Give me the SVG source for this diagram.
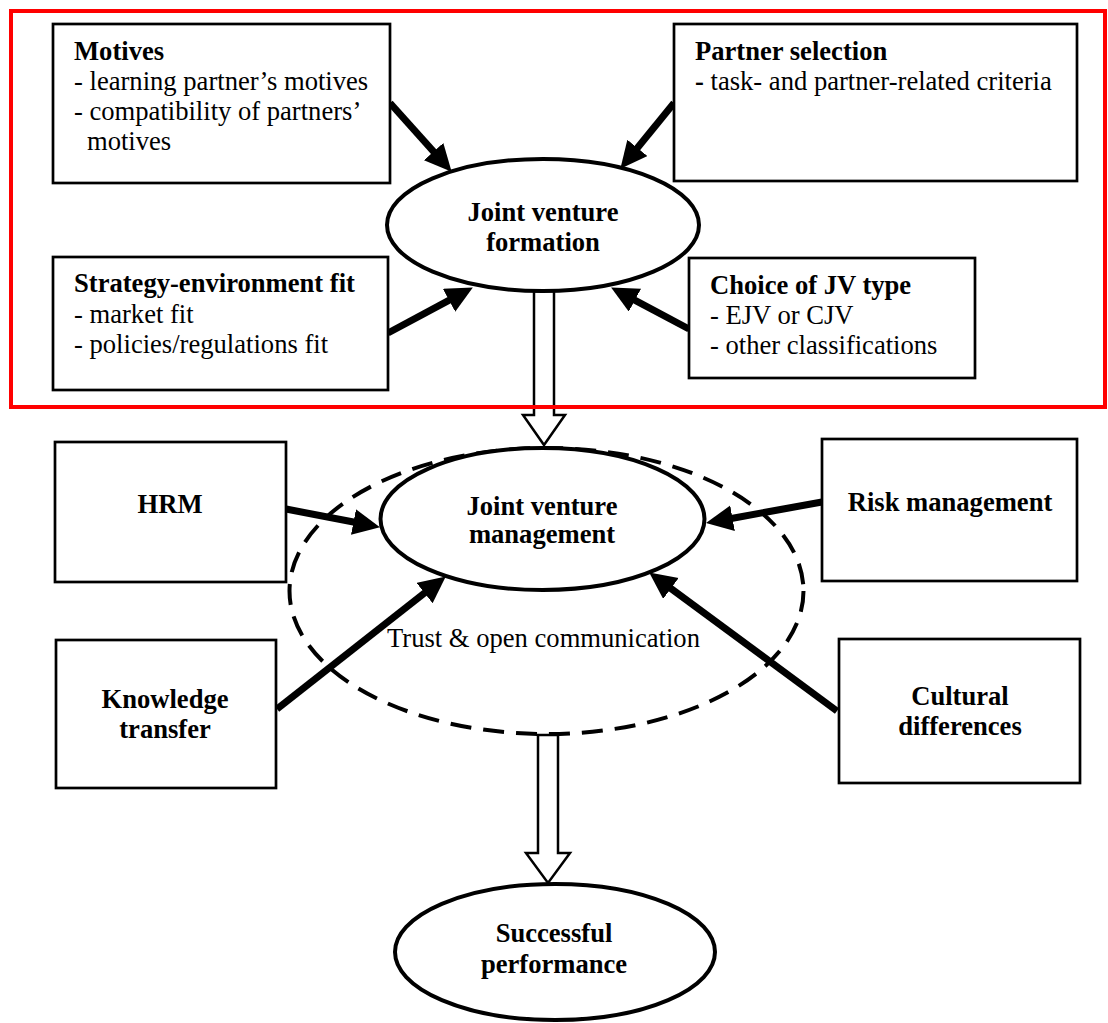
<svg xmlns="http://www.w3.org/2000/svg" width="1108" height="1023" viewBox="0 0 1108 1023">
<style>
.box{fill:#fff;stroke:#000;stroke-width:2.7}
.ell{fill:#fff;stroke:#000;stroke-width:4}
.t{font-family:"Liberation Serif","Times New Roman",serif;font-size:26.6px;fill:#000}
.b{font-weight:bold}
.c{text-anchor:middle}
.arr{stroke:#000;stroke-width:7;fill:none;marker-end:url(#ah)}
.hollow{fill:#fff;stroke:#000;stroke-width:2.5;stroke-linejoin:miter}
</style>
<defs>
<marker id="ah" markerUnits="userSpaceOnUse" markerWidth="30" markerHeight="30" refX="4" refY="13" orient="auto">
<path d="M0,0 L27,13 L0,26 z" fill="#000"/>
</marker>
</defs>
<rect width="1108" height="1023" fill="#fff"/>

<g id="management-dashed">
<ellipse cx="546.5" cy="591" rx="257" ry="143" fill="none" stroke="#000" stroke-width="4" stroke-dasharray="21 12"/>
</g>

<g id="connectors">
<polygon class="hollow" points="534,291 534,415 523,415 544,445 565,415 554,415 554,291"/>
<polygon class="hollow" points="538,735 538,853 526,853 548,883 570,853 558,853 558,735"/>
<line class="arr" x1="390" y1="103" x2="436.3" y2="154.6"/>
<line class="arr" x1="674" y1="103" x2="634.9" y2="151"/>
<line class="arr" x1="388" y1="333" x2="452.6" y2="298.4"/>
<line class="arr" x1="689" y1="329" x2="631.4" y2="298.3"/>
<line class="arr" x1="286" y1="509" x2="357.4" y2="522.8"/>
<line class="arr" x1="277" y1="709" x2="427.7" y2="590.6"/>
<line class="arr" x1="822" y1="502" x2="728.6" y2="519"/>
<line class="arr" x1="837" y1="711" x2="667.7" y2="586.1"/>
</g>

<g id="formation-frame">
<rect x="11" y="11" width="1094" height="396" fill="none" stroke="#ff0000" stroke-width="4"/>
</g>

<g id="motives">
<rect class="box" x="53" y="24" width="337" height="159"/>
<text class="t b" x="74" y="60">Motives</text>
<text class="t" x="74" y="90">- learning partner’s motives</text>
<text class="t" x="74" y="120">- compatibility of partners’</text>
<text class="t" x="87" y="150">motives</text>
</g>

<g id="partner-selection">
<rect class="box" x="674" y="24" width="403" height="157"/>
<text class="t b" x="695" y="60">Partner selection</text>
<text class="t" x="695" y="90"><tspan class="b">-</tspan> task- and partner-related criteria</text>
</g>

<g id="strategy-fit">
<rect class="box" x="53" y="257" width="335" height="133"/>
<text class="t b" x="74" y="292">Strategy-environment fit</text>
<text class="t" x="74" y="323">- market fit</text>
<text class="t" x="74" y="353">- policies/regulations fit</text>
</g>

<g id="jv-type">
<rect class="box" x="689" y="258" width="286" height="120"/>
<text class="t b" x="710" y="294">Choice of JV type</text>
<text class="t" x="710" y="324">- EJV or CJV</text>
<text class="t" x="710" y="354">- other classifications</text>
</g>

<g id="jv-formation">
<ellipse class="ell" cx="543" cy="225" rx="156" ry="66"/>
<text class="t b c" x="543" y="221">Joint venture</text>
<text class="t b c" x="543" y="251">formation</text>
</g>

<g id="jv-management">
<ellipse class="ell" cx="542.5" cy="519" rx="162" ry="71"/>
<text class="t b c" x="542" y="515">Joint venture</text>
<text class="t b c" x="542" y="543">management</text>
<text class="t" x="387" y="647">Trust &amp; open communication</text>
</g>

<g id="hrm">
<rect class="box" x="55" y="442" width="231" height="140"/>
<text class="t b c" x="170" y="513">HRM</text>
</g>

<g id="knowledge">
<rect class="box" x="56" y="640" width="220" height="148"/>
<text class="t b c" x="165" y="708">Knowledge</text>
<text class="t b c" x="165" y="738">transfer</text>
</g>

<g id="risk">
<rect class="box" x="822" y="439" width="255" height="142"/>
<text class="t b c" x="950" y="511">Risk management</text>
</g>

<g id="cultural">
<rect class="box" x="839" y="639" width="241" height="144"/>
<text class="t b c" x="960" y="705">Cultural</text>
<text class="t b c" x="960" y="735">differences</text>
</g>

<g id="performance">
<ellipse class="ell" cx="555" cy="952" rx="160" ry="68"/>
<text class="t b c" x="554" y="942">Successful</text>
<text class="t b c" x="554" y="973">performance</text>
</g>
</svg>
